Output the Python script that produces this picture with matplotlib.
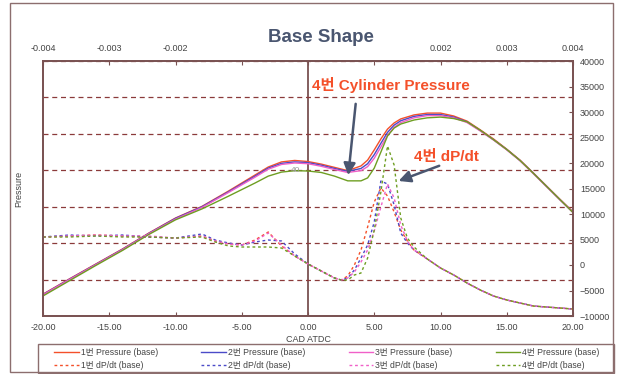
import matplotlib
matplotlib.use('Agg')
import matplotlib.pyplot as plt
from matplotlib.patches import Rectangle

plt.rcParams['font.family'] = ['Liberation Sans', 'Noto Sans CJK KR']

# 압력 (왼쪽 축, 숨김 눈금 0~70)
cad_p = [-20, -18, -16, -14, -12, -10, -8, -6, -4,
         -3, -2, -1, 0, 1, 2, 3, 4,
         4.5, 5, 5.5, 6, 6.5, 7,
         8, 9, 10, 11, 12, 13, 14, 15, 16, 17, 18, 19, 20]
p1 = [6.0, 10.2, 14.3, 18.4, 22.8, 26.9, 30.1, 34.3, 38.7,
      40.9, 42.3, 42.7, 42.4, 41.7, 40.8, 39.9, 41.2,
      42.8, 45.6, 48.6, 51.3, 53.0, 54.1,
      55.2, 55.7, 55.7, 54.9, 53.5, 51.1, 48.6, 45.8, 42.8, 39.3, 35.7, 32.1, 28.6]
p2 = [5.9, 10.1, 14.2, 18.3, 22.7, 26.8, 30.0, 34.1, 38.4,
      40.6, 41.9, 42.3, 42.1, 41.4, 40.5, 39.7, 40.5,
      41.8, 44.3, 47.4, 50.4, 52.4, 53.6,
      54.8, 55.3, 55.3, 54.6, 53.3, 50.9, 48.4, 45.7, 42.7, 39.2, 35.6, 32.0, 28.5]
p3 = [5.8, 10.0, 14.1, 18.2, 22.6, 26.6, 29.8, 33.9, 38.1,
      40.3, 41.6, 42.0, 41.8, 41.1, 40.2, 39.4, 39.9,
      41.0, 43.3, 46.4, 49.6, 51.8, 53.1,
      54.4, 55.0, 55.0, 54.4, 53.1, 50.8, 48.3, 45.6, 42.6, 39.1, 35.5, 31.9, 28.4]
p4 = [5.5, 9.7, 13.9, 18.0, 22.4, 26.4, 29.4, 32.9, 36.5,
      38.4, 39.5, 39.9, 39.8, 39.4, 38.4, 37.1, 37.1,
      37.9, 40.6, 45.0, 49.4, 51.6, 52.7,
      53.8, 54.4, 54.6, 54.2, 53.3, 51.0, 48.4, 45.7, 42.7, 39.2, 35.6, 32.0, 28.4]

# dP/dt (오른쪽 축)
cad_d = [-20, -18, -16, -14, -12, -10,
         -8, -7, -6, -5, -4, -3, -2, -1, 0, 1, 2,
         2.5, 3, 3.5, 4, 4.5, 5, 5.5, 6, 6.5, 7, 7.5, 8,
         9, 10, 11, 12, 13, 14, 15, 16, 17, 18, 19, 20]
d1 = [5490, 5690, 5880, 5690, 5490, 5290,
      5690, 4710, 4120, 3920, 4900, 6470, 3730, 1760, 200, -1180, -2550,
      -2940, -2160, 0, 2940, 7450, 12350, 15100, 13530, 10390, 6860, 4710, 2940,
      1180, -590, -1960, -3530, -4900, -6080, -6860, -7450, -8040, -8240, -8430, -8630]
d2 = [5490, 5880, 5690, 5880, 5490, 5290,
      6080, 4900, 4310, 3920, 4510, 4900, 4710, 2160, 200, -1180, -2550,
      -2940, -2550, -980, 1370, 3920, 8430, 16470, 15880, 11760, 6270, 4310, 2940,
      1180, -590, -1960, -3530, -4900, -6080, -6860, -7450, -8040, -8240, -8430, -8630]
d3 = [5490, 5690, 5880, 5690, 5690, 5290,
      5690, 4710, 4120, 3920, 4710, 6270, 3920, 1760, 200, -1180, -2550,
      -2940, -2550, -1370, 590, 2940, 6670, 11370, 15880, 13140, 7840, 4710, 2940,
      1180, -590, -1960, -3530, -4900, -6080, -6860, -7450, -8040, -8240, -8430, -8630]
d4 = [5490, 5490, 5690, 5490, 5490, 5290,
      5490, 4510, 3730, 3530, 3530, 3530, 3330, 1760, 200, -1180, -2550,
      -2940, -2940, -1960, -1570, 1370, 6860, 14310, 23330, 19610, 9220, 5290, 3530,
      1180, -590, -1960, -3530, -4900, -6080, -6860, -7450, -8040, -8240, -8430, -8630]

names = ['1번', '2번', '3번', '4번']
colors = ['#F4502A', '#4B4BC8', '#F060C8', '#6E9E22']

x_ticks = [-20, -15, -10, -5, 0, 5, 10, 15, 20]
x_labels = ['-20.00', '-15.00', '-10.00', '-5.00', '0.00', '5.00', '10.00', '15.00', '20.00']
top_ticks = [-0.004, -0.003, -0.002, -0.001, 0, 0.001, 0.002, 0.003, 0.004]
top_labels = ['-0.004', '-0.003', '-0.002', '', '', '', '0.002', '0.003', '0.004']
right_ticks = [-10000, -5000, 0, 5000, 10000, 15000, 20000, 25000, 30000, 35000, 40000]

frame_c = '#7A5252'
tick_c = '#444444'
W, H = 618, 374

fig = plt.figure(figsize=(6.18, 3.74), dpi=100)
fig.patches.append(Rectangle((10 / W, 2 / H), 603 / W, 369 / H, transform=fig.transFigure,
                             fill=False, ec='#8C6E6E', lw=1.0))
# 범례 상자
fig.patches.append(Rectangle((38 / W, 1 / H), 576 / W, 29 / H, transform=fig.transFigure,
                             fill=False, ec='#8C6E6E', lw=1.0))

ax = fig.add_axes([43 / W, 1 - 316 / H, 530 / W, 255 / H])
ax2 = ax.twinx()
ax3 = ax.twiny()

ax.set_xlim(-20, 20)
ax.set_ylim(0, 70)
ax.set_yticks(range(0, 71, 10))
ax.grid(axis='y', color='#8B3A3A', ls=(0, (4, 3)), lw=0.9)
ax.set_xticks(x_ticks)
ax.set_xticklabels(x_labels)
ax.tick_params(axis='y', left=False, right=False, labelleft=False, labelright=False)
ax.tick_params(axis='x', direction='in', length=3, color=frame_c, labelsize=6.5,
               labelcolor=tick_c, pad=5)
ax.axvline(0, color=frame_c, lw=1.3, zorder=1)
ax.set_xlabel('CAD ATDC', fontsize=6.5, color=tick_c, labelpad=2)
ax.set_ylabel('Pressure', fontsize=6.5, color=tick_c, labelpad=14)
ax.text(-0.6, 40, '40', fontsize=6, color='#999999', ha='right', va='center')

handles = []
for nm, c, p in zip(names, colors, [p1, p2, p3, p4]):
    ln, = ax.plot(cad_p, p, color=c, lw=1.0, label=nm + ' Pressure (base)')
    handles.append(ln)

ax2.set_ylim(-10000, 40000)
ax2.set_yticks(right_ticks)
ax2.tick_params(axis='y', direction='in', length=3, color=frame_c, labelsize=6.5,
                labelcolor=tick_c, pad=5, left=False)
for nm, c, d in zip(names, colors, [d1, d2, d3, d4]):
    ln, = ax2.plot(cad_d, d, color=c, lw=1.0, ls=(0, (2, 2)), label=nm + ' dP/dt (base)')
    handles.append(ln)

ax3.set_xlim(-0.004, 0.004)
ax3.set_xticks(top_ticks)
ax3.set_xticklabels(top_labels)
ax3.tick_params(axis='x', direction='in', length=3, color=frame_c, labelsize=6.5,
                labelcolor=tick_c, pad=6)

for a in (ax, ax2, ax3):
    for s in a.spines.values():
        s.set_color(frame_c)
        s.set_linewidth(1.1)

fig.text(321 / W, 1 - 37 / H, 'Base Shape', fontsize=13.5, fontweight='bold',
         color='#4A5670', ha='center', va='center')

# 주석
ax.text(0.3, 63.4, '4번 Cylinder Pressure', fontsize=11, fontweight='bold',
        color='#F4502A', ha='left', va='center')
ax.text(8.0, 43.6, '4번 dP/dt', fontsize=11, fontweight='bold',
        color='#F4502A', ha='left', va='center')
arrow_kw = dict(arrowstyle='-|>,head_length=0.7,head_width=0.35', color='#4A5670', lw=1.8)
ax.annotate('', xy=(3.02, 37.9), xytext=(3.62, 59.0), arrowprops=arrow_kw)
ax.annotate('', xy=(6.64, 36.8), xytext=(10.1, 41.5), arrowprops=arrow_kw)

order = [0, 4, 1, 5, 2, 6, 3, 7]
leg = fig.legend([handles[i] for i in order], [handles[i].get_label() for i in order],
                 ncol=4, loc='center', bbox_to_anchor=(327 / W, 1 - 359 / H),
                 fontsize=6.2, frameon=False,
                 handlelength=2.8, handletextpad=0.3, labelspacing=0.45,
                 columnspacing=5.0, borderaxespad=0)
for t in leg.get_texts():
    t.set_color(tick_c)

fig.savefig('out.png', dpi=100)
